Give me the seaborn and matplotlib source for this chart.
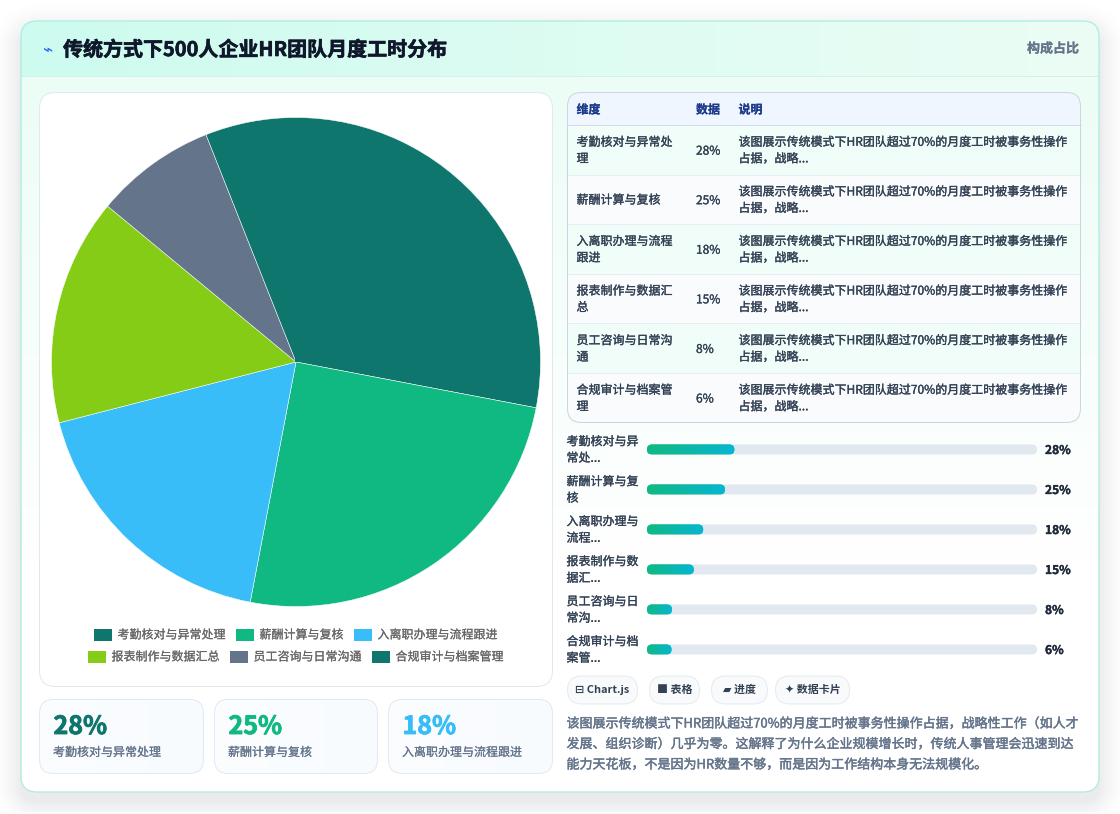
import numpy as np
import matplotlib
matplotlib.use("Agg")
import matplotlib.pyplot as plt
import matplotlib.patheffects as pe
from matplotlib.patches import FancyBboxPatch, Rectangle
import seaborn as sns

# ---- data ----
title = "传统方式下500人企业HR团队月度工时分布"
badge = "构成占比"
categories = ["考勤核对与异常处理", "薪酬计算与复核", "入离职办理与流程跟进",
              "报表制作与数据汇总", "员工咨询与日常沟通", "合规审计与档案管理"]
shares = [28, 25, 18, 15, 8, 6]
palette = ["#0f766e", "#10b981", "#38bdf8", "#84cc16", "#64748b", "#0f766e"]

table_headers = ["维度", "数据", "说明"]
table_names = ["考勤核对与异常处\n理", "薪酬计算与复核", "入离职办理与流程\n跟进",
               "报表制作与数据汇\n总", "员工咨询与日常沟\n通", "合规审计与档案管\n理"]
table_note = "该图展示传统模式下HR团队超过70%的月度工时被事务性操作\n占据，战略..."
bar_names = ["考勤核对与异\n常处...", "薪酬计算与复\n核", "入离职办理与\n流程...",
             "报表制作与数\n据汇...", "员工咨询与日\n常沟...", "合规审计与档\n案管..."]
chips = ["⊟ Chart.js", "■ 表格", "▰ 进度", "✦ 数据卡片"]
summary = ["该图展示传统模式下HR团队超过70%的月度工时被事务性操作占据，战略性工作（如人才",
           "发展、组织诊断）几乎为零。这解释了为什么企业规模增长时，传统人事管理会迅速到达",
           "能力天花板，不是因为HR数量不够，而是因为工作结构本身无法规模化。"]

sns.set_theme(style="white")
plt.rcParams["font.family"] = ["Noto Sans CJK SC", "DejaVu Sans"]

W, H = 1120, 814
fig = plt.figure(figsize=(W / 100, H / 100), dpi=100, facecolor="white")
page = fig.add_axes([0, 0, 1, 1])
page.set_xlim(0, W)
page.set_ylim(H, 0)
page.axis("off")


def pt(px):
    return px * 0.72


def rounded(x0, y0, x1, y1, r, fc="none", ec="none", lw=0.72, z=2):
    box = FancyBboxPatch((x0, y0), x1 - x0, y1 - y0,
                         boxstyle=f"round,pad=0,rounding_size={r}",
                         fc=fc, ec=ec, lw=lw, zorder=z)
    page.add_patch(box)
    return box


def gradient(x0, y0, x1, y1, c0, c1, vertical=False, clip=None, z=2):
    c0 = np.array(matplotlib.colors.to_rgb(c0))
    c1 = np.array(matplotlib.colors.to_rgb(c1))
    t = np.linspace(0, 1, 256)
    img = c0[None, :] * (1 - t[:, None]) + c1[None, :] * t[:, None]
    img = img[:, None, :] if vertical else img[None, :, :]
    im = page.imshow(img, extent=(x0, x1, y1, y0), aspect="auto",
                     interpolation="bilinear", zorder=z)
    if clip is not None:
        im.set_clip_path(clip)
    page.set_xlim(0, W)
    page.set_ylim(H, 0)
    return im


def label(x, y, s, size, color, weight="normal", ha="left", z=6, gap=None, heft=0.18):
    """Place text, one line per newline, centred vertically on y; heft thickens the strokes."""
    lines = s.split("\n")
    gap = gap if gap is not None else size * 1.38
    start = y - gap * (len(lines) - 1) / 2
    for i, line in enumerate(lines):
        t = page.text(x, start + i * gap, line, fontsize=pt(size), color=color,
                      fontweight=weight, ha=ha, va="center", zorder=z)
        t.set_path_effects([pe.withStroke(linewidth=heft, foreground=color)])


# soft shadow under the main card
yy, xx = np.mgrid[0:H, 0:W]
cx, cy = (21 + 1099) / 2, (21 + 792) / 2 + 10
qx = np.abs(xx + 0.5 - cx) - (1099 - 21) / 2 + 16
qy = np.abs(yy + 0.5 - cy) - (792 - 21) / 2 + 16
dist = np.hypot(np.maximum(qx, 0), np.maximum(qy, 0)) + np.minimum(np.maximum(qx, qy), 0) - 16
alpha = 0.085 * np.clip(1 - dist / 34, 0, 1) ** 2
shadow = np.zeros((H, W, 4))
shadow[..., :3] = 0.06, 0.09, 0.16
shadow[..., 3] = alpha
page.imshow(shadow, extent=(0, W, H, 0), aspect="auto", zorder=0)
page.add_patch(Rectangle((0, 812), W, 2, fc="#fbfbfc", ec="none", zorder=1))
page.set_xlim(0, W)
page.set_ylim(H, 0)

# main card with its header band
card_clip = rounded(21, 21, 1099, 792, 16, fc="white", z=1)
gradient(21, 76, 1099, 560, "#ecfdf6", "#ffffff", vertical=True, clip=card_clip, z=1.2)
gradient(21, 21, 1099, 76, "#cdfbef", "#ecfdf5", clip=card_clip, z=1.4)
page.plot([21, 1099], [76, 76], color="#d5efec", lw=0.72, zorder=1.5)
rounded(21, 21, 1099, 792, 16, ec="#a9eee0", lw=0.9, z=1.6)

page.text(47, 50, "⌁", fontsize=pt(17), color="#2563eb", ha="center", va="center",
          family=["DejaVu Sans"], zorder=6)
label(63, 49.5, title, 20, "#0f172a", weight="bold", heft=0.45)
label(1079, 48.5, badge, 13, "#64748b", weight="bold", ha="right", heft=0.1)

# pie panel
rounded(39.5, 92.5, 552.5, 686.5, 16, fc="white", ec="#e2e8f0", z=2)
pie_ax = fig.add_axes([51.5 / W, 1 - 606.5 / H, 489 / W, 489 / H])
pie_ax.pie(shares, colors=palette, startangle=90, counterclock=False, radius=1,
           wedgeprops={"edgecolor": "#ffffff", "linewidth": 0.35})
# first and last slices share a colour and read as one region
pie_ax.plot([0, 0], [0, 1], color=palette[0], lw=1.5, solid_capstyle="butt", zorder=5)
pie_ax.set_xlim(-1, 1)
pie_ax.set_ylim(-1, 1)
pie_ax.patch.set_alpha(0)

# legend rows, each centred under the pie
for row, ypos in zip((range(0, 3), range(3, 6)), (635, 657)):
    widths = [18 + 6 + 12 * len(categories[i]) for i in row]
    x = 296 - (sum(widths) + 10 * 2) / 2
    for i, w in zip(row, widths):
        page.add_patch(Rectangle((x, ypos - 6), 18, 12, fc=palette[i], ec="none", zorder=4))
        label(x + 23.5, ypos, categories[i], 12, "#666666", heft=0.12)
        x += w + 10

# three headline figures
for (x0, x1), share, name, color in zip(((39.5, 203.5), (214.5, 377.5), (388.5, 552.5)),
                                        shares, categories, palette):
    clip = rounded(x0, 699.5, x1, 773.5, 14, fc="white", z=2)
    gradient(x0, 699.5, x1, 773.5, "#fbfdff", "#f8fbfe", clip=clip, z=2.1)
    rounded(x0, 699.5, x1, 773.5, 14, ec="#dfeaf6", z=2.2)
    label(x0 + 14, 727, f"{share}%", 25, color, weight="bold", heft=0.6)
    label(x0 + 13.5, 752.5, name, 12, "#64748b", heft=0.12)

# table
table_top, header_bottom, table_bottom = 92.5, 125, 422.5
table_clip = rounded(567.5, table_top, 1080.5, table_bottom, 14, fc="white", z=2)
page.add_patch(Rectangle((567, table_top), 514, header_bottom - table_top, fc="#eff6ff",
                         ec="none", zorder=2.1, clip_path=table_clip))
row_h = (table_bottom - header_bottom) / len(categories)
for i, (name, share) in enumerate(zip(table_names, shares)):
    y0 = header_bottom + i * row_h
    page.add_patch(Rectangle((567, y0), 514, row_h, fc="#f0fdf8" if i % 2 == 0 else "#f9fbfd",
                             ec="none", zorder=2.1, clip_path=table_clip))
    page.plot([567.5, 1080.5], [y0, y0], color="#cfdbe8" if i == 0 else "#e6edf3", lw=0.72, zorder=2.3)
    yc = y0 + row_h / 2 + 0.8
    label(576.5, yc, name, 12, "#334155", gap=16.5, heft=0.22)
    label(696, yc + 0.5, f"{share}%", 12, "#334155", heft=0.22)
    label(738.5, yc, table_note, 12, "#334155", gap=16.5, heft=0.22)
rounded(567.5, table_top, 1080.5, table_bottom, 14, ec="#cbd5e1", z=2.4)
for x, head in zip((576.5, 696, 738.5), table_headers):
    label(x, 110, head, 12, "#1e3a8a", weight="bold", heft=0.1)

# progress bars: the seaborn bars set the geometry, the pills paint over them
bar_ax = fig.add_axes([647 / W, 1 - 669.5 / H, 390 / W, 240 / H])
sns.barplot(x=shares, y=categories, orient="h", width=0.25, ax=bar_ax, color="#10b981")
bar_ax.set_xlim(0, 125)
bar_ax.axis("off")
bar_ax.patch.set_alpha(0)
min_pill_px = 24.5
for patch, name, share in zip(bar_ax.patches, bar_names, shares):
    p0 = page.transData.inverted().transform(
        bar_ax.transData.transform((patch.get_x(), patch.get_y())))
    p1 = page.transData.inverted().transform(
        bar_ax.transData.transform((patch.get_x() + patch.get_width(),
                                    patch.get_y() + patch.get_height())))
    patch.set_visible(False)
    x0, x1 = p0[0], max(p1[0], p0[0] + min_pill_px)
    y0, y1 = sorted((p0[1], p1[1]))
    yc = (y0 + y1) / 2
    rounded(647, y0, 1037, y1, 5, fc="#e2e8f0", z=3)
    pill = rounded(x0, y0, x1, y1, 5, fc="#10b981", z=3.1)
    gradient(x0, y0, x1, y1, "#10b981", "#06b6d4", clip=pill, z=3.2)
    label(566.5, yc + 0.5, name, 12, "#334155", gap=16.5, heft=0.22)
    label(1045, yc + 1, f"{share}%", 12, "#1e293b", weight="bold", heft=0.25)

# tool chips
for (x0, x1), chip in zip(((567.5, 637.5), (649.5, 699.5), (711.5, 767.5), (775.5, 849.5)), chips):
    rounded(x0, 676, x1, 704, 14, fc="#f8fafc", ec="#e6ebf1", z=3)
    page.text((x0 + x1) / 2, 690, chip, fontsize=pt(11), color="#334155", fontweight="bold",
              ha="center", va="center", zorder=6)

# closing note
for y, line in zip((724, 744.5, 765), summary):
    label(566.5, y, line, 13, "#64748b", heft=0.3)

fig.savefig("out.png", dpi=100, facecolor="white")
